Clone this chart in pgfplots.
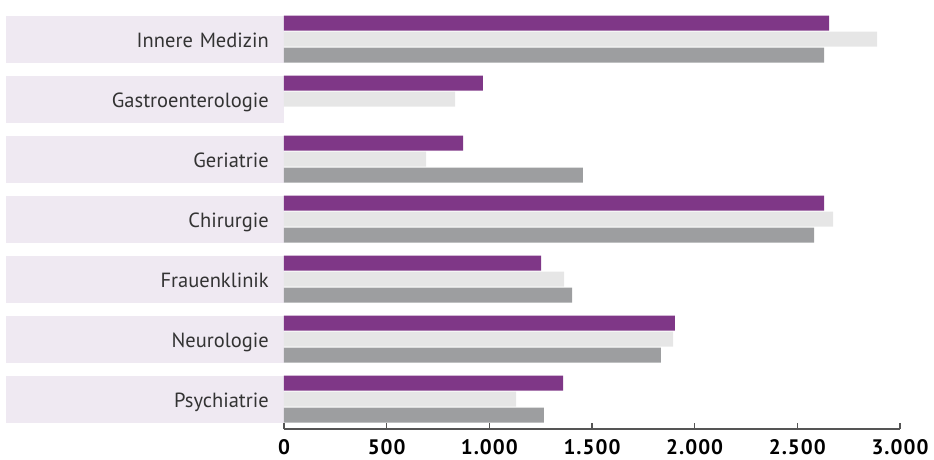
\documentclass[border=0pt]{standalone}
\usepackage{pgfplots}
\pgfplotsset{compat=1.18}
\usepackage{fontspec}
\setmainfont{PT Sans}
\definecolor{cpurple}{HTML}{7F3787}
\definecolor{clight}{HTML}{E6E6E6}
\definecolor{cgray}{HTML}{9D9EA0}
\definecolor{clav}{HTML}{EFE9F2}
\definecolor{caxis}{HTML}{555555}
\begin{document}
\begin{tikzpicture}[x=1pt,y=1pt]
\useasboundingbox (-284,-30) rectangle (650,429);
\begin{axis}[
  at={(0,0)}, anchor=south west,
  scale only axis, width=616pt, height=429pt,
  xmin=0, xmax=3000, ymin=0, ymax=429, y dir=reverse,
  enlargelimits=false, clip=false,
  axis x line*=bottom, axis y line*=left,
  y axis line style={draw=none},
  x axis line style={caxis, line width=1.2pt},
  xtick={0,500,...,3000},
  scaled x ticks=false,
  tick align=inside, major tick length=6.5pt,
  x tick style={caxis, line width=1.2pt},
  y tick style={draw=none},
  ytick={39,99,159,219,279,339,399},
  yticklabels={Innere Medizin,Gastroenterologie,Geriatrie,Chirurgie,Frauenklinik,Neurologie,Psychiatrie},
  xticklabel style={font=\fontsize{21}{21}\selectfont\bfseries\addfontfeature{LetterSpace=5}, /pgf/number format/1000 sep={.}, /pgf/number format/assume math mode=true, inner ysep=10pt},
  yticklabel style={font=\fontsize{20.5}{24}\selectfont, fill=clav, text width=248pt, align=right, inner xsep=15pt, inner ysep=0pt, minimum height=47pt, text height=17pt, text depth=0pt, anchor=east, text=black!80},
]
\addplot[xbar, bar shift=0pt, bar width=15, fill=cpurple, draw=none] coordinates {
(2655,23) (968,83) (872,143) (2630,203) (1252,263) (1904,323) (1359,383)};
\addplot[xbar, bar shift=0pt, bar width=15, fill=clight, draw=none] coordinates {
(2888,39) (833,99) (692,159) (2674,219) (1364,279) (1895,339) (1130,399)};
\addplot[xbar, bar shift=0pt, bar width=15, fill=cgray, draw=none] coordinates {
(2630,55) (1456,175) (2582,235) (1403,295) (1836,355) (1266,415)};
\end{axis}
\end{tikzpicture}
\end{document}
